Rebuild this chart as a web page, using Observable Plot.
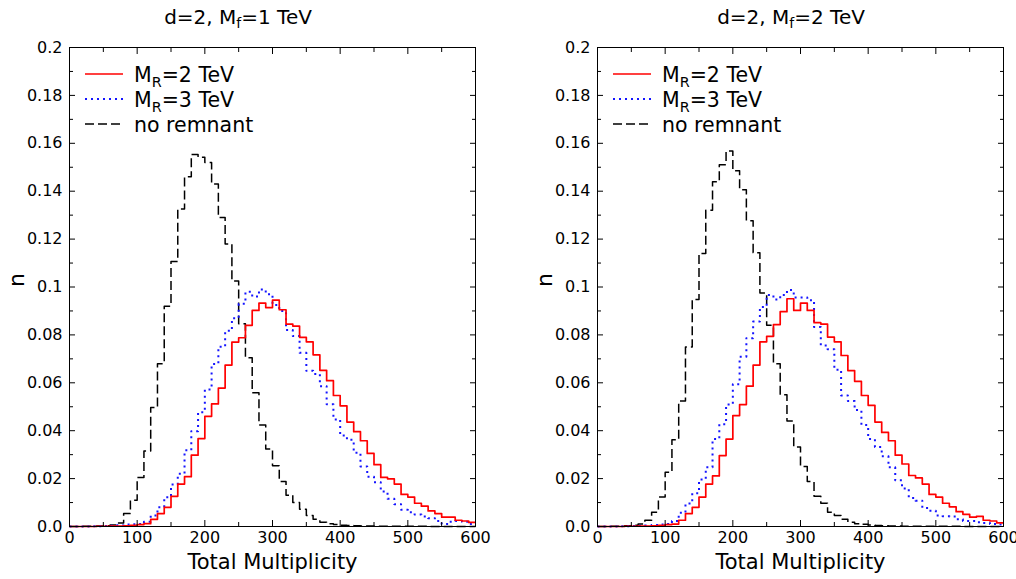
<!DOCTYPE html>
<html>
<head>
<meta charset="utf-8">
<script src="https://cdn.jsdelivr.net/npm/d3@7"></script>
<script src="https://cdn.jsdelivr.net/npm/@observablehq/plot@0.6"></script>
<style>
  html, body { margin: 0; padding: 0; background: #fff; }
  #wrap { position: relative; width: 1016px; height: 579px; overflow: hidden; font-family: "DejaVu Sans", sans-serif; color: #000; }
  .panel { position: absolute; top: 0; width: 508px; height: 579px; }
  .panel svg.plot { position: absolute; left: 0; top: 30px; }
  .title { position: absolute; top: 7px; font-size: 20px; line-height: 20px; white-space: nowrap; transform: translateX(-50%); }
  .lg-text { position: absolute; font-size: 20.5px; line-height: 20px; white-space: nowrap; }
  .lg-line { position: absolute; }
  sub { font-size: 70%; vertical-align: -0.32em; line-height: 0; }
</style>
</head>
<body>
<div id="wrap"></div>
<script>
// ---------------- data ----------------
const binStart = [0,10,20,30,40,50,60,70,80,90,100,110,120,130,140,150,160,170,180,190,
  200,210,220,230,240,250,260,270,280,290,300,310,320,330,340,350,360,370,380,390,
  400,410,420,430,440,450,460,470,480,490,500,510,520,530,540,550,560,570,580,590];
const binWidth = 10;

const xMajorTicks = [0,100,200,300,400,500,600];
const xTickLabels = ["0","100","200","300","400","500","600"];
const xMinorTicks = [50,150,250,350,450,550];
const yMajorTicks = [0,0.02,0.04,0.06,0.08,0.1,0.12,0.14,0.16,0.18,0.2];
const yTickLabels = ["0.0","0.02","0.04","0.06","0.08","0.1","0.12","0.14","0.16","0.18","0.2"];
const yMinorTicks = [0.01,0.03,0.05,0.07,0.09,0.11,0.13,0.15,0.17,0.19];

const panelTitles = [
  {pre: "d=2, M", sub: "f", post: "=1 TeV"},
  {pre: "d=2, M", sub: "f", post: "=2 TeV"}
];
const seriesLabels = [
  {pre: "M", sub: "R", post: "=2 TeV"},
  {pre: "M", sub: "R", post: "=3 TeV"},
  {pre: "no remnant", sub: "", post: ""}
];
const xLabel = "Total Multiplicity";
const yLabel = "n";

// Left panel: d=2, Mf=1 TeV
const leftMR2 = [0,0,0,0,0.0001,0.0001,0.0002,0.0002,0.0003,0.0005,
  0.0008,0.0012,0.003,0.0054,0.008,0.0126,0.0177,0.0208,0.0298,0.0367,
  0.046,0.0512,0.0578,0.0674,0.077,0.0788,0.084,0.0902,0.0933,0.0914,
  0.0945,0.0905,0.0845,0.0837,0.079,0.0771,0.0717,0.0652,0.0609,0.0547,
  0.0504,0.0436,0.0396,0.0358,0.0305,0.0258,0.0205,0.0199,0.0177,0.0134,
  0.0123,0.0097,0.0085,0.0065,0.0054,0.0039,0.0039,0.0026,0.0023,0.0017];
const leftMR3 = [0,0,0,0.0001,0.0001,0.0002,0.0003,0.0005,0.0008,0.0009,
  0.001,0.002,0.0046,0.008,0.0122,0.0175,0.022,0.0318,0.0398,0.0477,
  0.0572,0.0678,0.0751,0.0817,0.087,0.093,0.098,0.096,0.099,0.097,
  0.0925,0.09,0.082,0.0795,0.0725,0.065,0.0637,0.0586,0.051,0.0447,
  0.038,0.0362,0.0308,0.0251,0.0208,0.0185,0.0146,0.0116,0.0093,0.007,
  0.0059,0.005,0.0042,0.0034,0.0023,0.001,0.002,0.0023,0.002,0.001];
const leftNoRemnant = [0,0,0.0001,0.0001,0.0002,0.0003,0.0006,0.0015,0.0054,0.011,
  0.0205,0.0315,0.0497,0.068,0.092,0.1106,0.1326,0.146,0.1553,0.1542,
  0.152,0.143,0.129,0.118,0.1025,0.0847,0.0705,0.0558,0.0424,0.0324,
  0.0254,0.0188,0.0131,0.01,0.0072,0.0046,0.003,0.0018,0.0012,0.0008,
  0.0005,0.0004,0.0003,0.0002,0.0002,0.0001,0.0001,0.0001,0.0001,0.0001,
  0.0001,0.0001,0.0001,0,0,0,0,0,0,0];

// Right panel: d=2, Mf=2 TeV
const rightMR2 = [0,0,0,0,0.0001,0.0001,0.0002,0.0002,0.0003,0.0005,
  0.0008,0.001,0.0026,0.0054,0.008,0.0123,0.0177,0.0211,0.0296,0.0365,
  0.0463,0.0509,0.0586,0.0674,0.0771,0.0794,0.0843,0.0897,0.0951,0.0902,
  0.0933,0.0902,0.0851,0.0845,0.0791,0.0771,0.0714,0.0651,0.0606,0.0547,
  0.0506,0.0436,0.0393,0.0358,0.0298,0.0261,0.0213,0.0203,0.0177,0.0134,
  0.0123,0.0097,0.0082,0.0062,0.0051,0.0039,0.0042,0.0026,0.0023,0.0015];
const rightMR3 = [0,0,0,0.0001,0.0001,0.0002,0.0003,0.0004,0.0006,0.0008,
  0.001,0.0023,0.0057,0.0096,0.0139,0.0196,0.0247,0.0365,0.0427,0.0509,
  0.0594,0.0709,0.0786,0.0856,0.0917,0.0967,0.0948,0.0967,0.0987,0.0956,
  0.0956,0.0945,0.0833,0.0756,0.074,0.0655,0.0547,0.0524,0.0486,0.0424,
  0.0365,0.0332,0.0293,0.0247,0.0193,0.0159,0.0119,0.0108,0.0077,0.0066,
  0.0046,0.0043,0.0042,0.003,0.0023,0.0023,0.0018,0.0015,0.001,0.0008];
const rightNoRemnant = [0,0,0.0001,0.0001,0.0003,0.0005,0.001,0.0026,0.006,0.0123,
  0.0227,0.0362,0.0524,0.075,0.0948,0.114,0.132,0.1439,0.151,0.1568,
  0.1485,0.1406,0.1277,0.1143,0.0975,0.084,0.068,0.055,0.044,0.0332,
  0.0251,0.0188,0.0126,0.0097,0.006,0.0046,0.003,0.0018,0.0012,0.0009,
  0.0006,0.0004,0.0003,0.0002,0.0002,0.0001,0.0001,0.0001,0.0001,0.0001,
  0.0001,0.0001,0.0001,0.0001,0,0,0,0,0,0];

// ---------------- styles ----------------
const seriesStyles = [
  {stroke: "#ff0000", strokeWidth: 1.7, dash: null},
  {stroke: "#1414ff", strokeWidth: 2, dash: "2,4"},
  {stroke: "#000000", strokeWidth: 1.5, dash: "9,4"}
];
const FONT = "DejaVu Sans";

function stepRows(values) {
  const rows = values.map((v, i) => ({x: binStart[i], y: v}));
  rows.push({x: binStart[binStart.length - 1] + binWidth, y: values[values.length - 1]});
  return rows;
}

function makePlot(seriesValues, marginLeft, marginRight, nOffset) {
  const marks = [];
  // draw order: no remnant, MR=3, MR=2
  [2, 1, 0].forEach(k => {
    const st = seriesStyles[k];
    marks.push(Plot.line(stepRows(seriesValues[k]), {
      x: "x", y: "y", curve: "step-after",
      stroke: st.stroke, strokeWidth: st.strokeWidth,
      strokeDasharray: st.dash, strokeLinecap: "butt"
    }));
  });
  marks.push(
    // inward ticks, all four sides
    Plot.axisX({anchor: "bottom", ticks: xMajorTicks, tickSize: -6, fill: "none", label: null}),
    Plot.axisX({anchor: "bottom", ticks: xMinorTicks, tickSize: -4, fill: "none", label: null}),
    Plot.axisX({anchor: "top", ticks: xMajorTicks, tickSize: -6, fill: "none", label: null}),
    Plot.axisX({anchor: "top", ticks: xMinorTicks, tickSize: -4, fill: "none", label: null}),
    Plot.axisY({anchor: "left", ticks: yMajorTicks, tickSize: -6, fill: "none", label: null}),
    Plot.axisY({anchor: "left", ticks: yMinorTicks, tickSize: -4, fill: "none", label: null}),
    Plot.axisY({anchor: "right", ticks: yMajorTicks, tickSize: -6, fill: "none", label: null}),
    Plot.axisY({anchor: "right", ticks: yMinorTicks, tickSize: -4, fill: "none", label: null}),
    // tick labels
    Plot.axisX({anchor: "bottom", ticks: xMajorTicks, tickSize: 0, tickPadding: 5, label: null,
      tickFormat: d => xTickLabels[xMajorTicks.indexOf(d)], fontSize: 16}),
    Plot.axisY({anchor: "left", ticks: yMajorTicks, tickSize: 0, tickPadding: 7, label: null,
      tickFormat: d => yTickLabels[yMajorTicks.indexOf(d)], fontSize: 16}),
    // axis titles
    Plot.text([xLabel], {frameAnchor: "bottom", dy: 36, lineAnchor: "middle", fontSize: 21, text: d => d}),
    Plot.text([yLabel], {frameAnchor: "left", dx: nOffset, rotate: -90, lineAnchor: "middle", fontSize: 22, text: d => d}),
    Plot.frame({stroke: "#000", strokeWidth: 1})
  );
  const svg = Plot.plot({
    width: 508, height: 549,
    marginLeft, marginRight, marginTop: 17, marginBottom: 53,
    x: {domain: [0, 600]},
    y: {domain: [0, 0.2]},
    style: {fontFamily: FONT, fontSize: "16px", color: "#000", background: "transparent", overflow: "visible"},
    marks
  });
  svg.classList.add("plot");
  return svg;
}

function richText(el, t) {
  el.appendChild(document.createTextNode(t.pre));
  if (t.sub) {
    const s = document.createElement("sub");
    s.textContent = t.sub;
    el.appendChild(s);
  }
  if (t.post) el.appendChild(document.createTextNode(t.post));
}

function buildPanel(left, title, titleCenter, seriesValues, marginLeft, marginRight, nOffset) {
  const panel = document.createElement("div");
  panel.className = "panel";
  panel.style.left = left + "px";
  const t = document.createElement("div");
  t.className = "title";
  t.style.left = titleCenter + "px";
  richText(t, title);
  panel.appendChild(t);
  panel.appendChild(makePlot(seriesValues, marginLeft, marginRight, nOffset));
  // legend
  const rowY = [74, 99, 124];
  seriesLabels.forEach((lab, k) => {
    const st = seriesStyles[k];
    const ns = "http://www.w3.org/2000/svg";
    const sv = document.createElementNS(ns, "svg");
    sv.setAttribute("class", "lg-line");
    sv.setAttribute("width", "40");
    sv.setAttribute("height", "10");
    sv.style.left = (marginLeft + 16) + "px";
    sv.style.top = (rowY[k] - 5) + "px";
    const ln = document.createElementNS(ns, "line");
    ln.setAttribute("x1", "0"); ln.setAttribute("x2", "38");
    ln.setAttribute("y1", "5"); ln.setAttribute("y2", "5");
    ln.setAttribute("stroke", st.stroke);
    ln.setAttribute("stroke-width", st.strokeWidth);
    if (st.dash) ln.setAttribute("stroke-dasharray", st.dash);
    sv.appendChild(ln);
    panel.appendChild(sv);
    const tx = document.createElement("div");
    tx.className = "lg-text";
    tx.style.left = (marginLeft + 65) + "px";
    tx.style.top = (rowY[k] - 9) + "px";
    richText(tx, lab);
    panel.appendChild(tx);
  });
  return panel;
}

const wrap = document.getElementById("wrap");
wrap.appendChild(buildPanel(0, panelTitles[0], 238, [leftMR2, leftMR3, leftNoRemnant], 69, 33, -53));
wrap.appendChild(buildPanel(508, panelTitles[1], 283, [rightMR2, rightMR3, rightNoRemnant], 89, 13, -53));
</script>
</body>
</html>
